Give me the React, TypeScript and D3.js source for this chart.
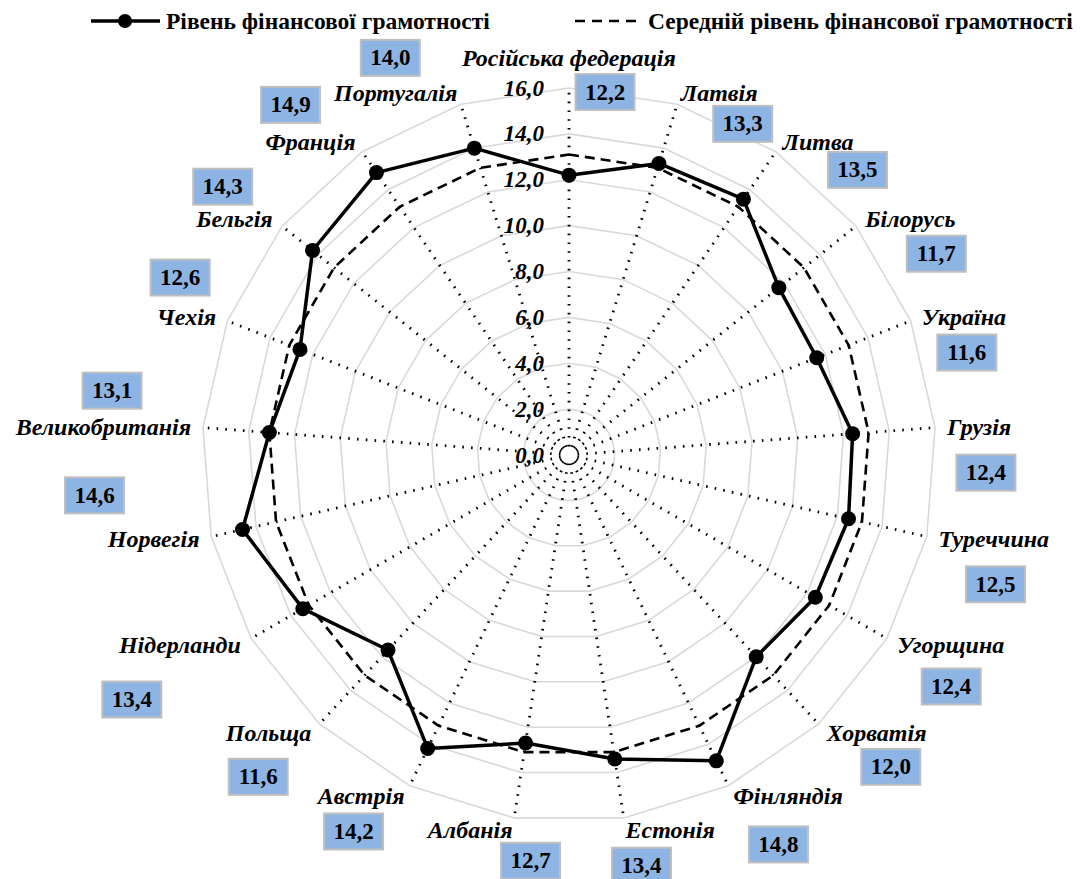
import React from 'react';
import * as d3 from 'd3';

const categories = [
  'Російська федерація', 'Латвія', 'Литва', 'Білорусь', 'Україна', 'Грузія', 'Туреччина',
  'Угорщина', 'Хорватія', 'Фінляндія', 'Естонія', 'Албанія', 'Австрія', 'Польща',
  'Нідерланди', 'Норвегія', 'Великобританія', 'Чехія', 'Бельгія', 'Франція', 'Португалія',
];
const literacyValues = [
  12.2, 13.3, 13.5, 11.7, 11.6, 12.4, 12.5, 12.4, 12.0, 14.8, 13.4,
  12.7, 14.2, 11.6, 13.4, 14.6, 13.1, 12.6, 14.3, 14.9, 14.0,
];
const averageLevel = 13.1;
const axisTicks = [0, 2, 4, 6, 8, 10, 12, 14, 16];
const seriesNames = ['Рівень фінансової грамотності', 'Середній рівень фінансової грамотності'];

// layout only: value-box nudges relative to each category label anchor
const valueBoxNudge: [number, number][] = [
  [36, 16], [62, 31], [75, 28], [71, 35], [45, 36], [39, 46], [57, 45], [54, 42], [64, 34],
  [45, 48], [16, 36], [18, 31], [-51, 35], [-53, 44], [-109, 55], [-105, -44], [-79, -36],
  [-36, -39], [-50, -32], [-65, -37], [-67, -35],
];

const W = 1082;
const H = 879;
const cx = 569;
const cy = 455;
const R = 367;
const FONT = '"Liberation Serif", "Times New Roman", serif';

const fmt = (v: number) => d3.format('.1f')(v).replace('.', ',');

export default function App() {
  const n = categories.length;
  const angle = d3.scaleLinear().domain([0, n]).range([0, 2 * Math.PI]);
  const r = d3.scaleLinear().domain([0, 16]).range([0, R]);

  const radial = d3
    .lineRadial<number>()
    .angle((_, i) => angle(i))
    .radius((d) => r(d))
    .curve(d3.curveLinearClosed);

  const pt = (i: number, rad: number) => {
    const a = angle(i);
    return [cx + rad * Math.sin(a), cy - rad * Math.cos(a)];
  };

  const averageSeries = categories.map(() => averageLevel);
  const gridLevels = axisTicks.filter((t) => t > 0);

  return (
    <div style={{ position: 'absolute', left: 0, top: 0 }}>
      <svg width={W} height={H} style={{ display: 'block', background: '#fff' }}>
        <rect x={0} y={0} width={W} height={H} fill="#fff" />
        <g transform={`translate(${cx},${cy})`}>
          {gridLevels.map((lv) => (
            <path
              key={lv}
              d={radial(categories.map(() => lv)) || ''}
              fill="none"
              stroke="#d9d9d9"
              strokeWidth={1.6}
            />
          ))}
        </g>
        {categories.map((c, i) => {
          const [x1, y1] = pt(i, 8.6);
          const [x2, y2] = pt(i, r(16));
          return (
            <line
              key={c}
              x1={x1}
              y1={y1}
              x2={x2}
              y2={y2}
              stroke="#000"
              strokeWidth={2.8}
              strokeDasharray="1.6 7.2"
            />
          );
        })}
        {axisTicks.map((t) => (
          <text
            key={t}
            x={544}
            y={cy - r(t)}
            textAnchor="end"
            dominantBaseline="central"
            fontFamily={FONT}
            fontWeight="bold"
            fontStyle="italic"
            fontSize={23}
            fill="#000"
          >
            {fmt(t)}
          </text>
        ))}
        <g transform={`translate(${cx},${cy})`}>
          <path
            d={radial(averageSeries) || ''}
            fill="none"
            stroke="#000"
            strokeWidth={2.6}
            strokeDasharray="10 6"
          />
          <path d={radial(literacyValues) || ''} fill="none" stroke="#000" strokeWidth={3.5} strokeLinejoin="round" />
        </g>
        {literacyValues.map((v, i) => {
          const [x, y] = pt(i, r(v));
          return <circle key={i} cx={x} cy={y} r={7.5} fill="#000" />;
        })}
        {categories.map((c, i) => {
          const a = angle(i);
          const s = Math.sin(a);
          const co = Math.cos(a);
          let [x, y] = pt(i, R + 12);
          let anchor: 'start' | 'end' | 'middle' = 'middle';
          if (s > 0.05) anchor = 'start';
          else if (s < -0.05) anchor = 'end';
          else y -= co * 18;
          const [nx, ny] = valueBoxNudge[i];
          const bx = pt(i, R + 12)[0] + nx;
          const by = pt(i, R + 12)[1] + ny;
          return (
            <g key={c}>
              <text
                x={x}
                y={y}
                textAnchor={anchor}
                dominantBaseline="central"
                fontFamily={FONT}
                fontWeight="bold"
                fontStyle="italic"
                fontSize={24}
                fill="#000"
              >
                {c}
              </text>
              <rect
                x={bx - 29.5}
                y={by - 18}
                width={59}
                height={36}
                fill="#8eb4e3"
                stroke="#bfbfbf"
                strokeWidth={2}
              />
              <text
                x={bx}
                y={by}
                textAnchor="middle"
                dominantBaseline="central"
                fontFamily={FONT}
                fontWeight="bold"
                fontSize={23}
                fill="#000"
              >
                {fmt(literacyValues[i])}
              </text>
            </g>
          );
        })}
        {/* legend */}
        <g>
          <line x1={91} y1={21} x2={160} y2={21} stroke="#000" strokeWidth={3.5} />
          <circle cx={125} cy={21} r={7} fill="#000" />
          <text x={166} y={21} dominantBaseline="central" fontFamily={FONT} fontWeight="bold" fontSize={23.5} fill="#000">
            {seriesNames[0]}
          </text>
          <line x1={575} y1={21} x2={640} y2={21} stroke="#000" strokeWidth={2.6} strokeDasharray="10 7" />
          <text x={648} y={21} dominantBaseline="central" fontFamily={FONT} fontWeight="bold" fontSize={23.5} fill="#000">
            {seriesNames[1]}
          </text>
        </g>
      </svg>
    </div>
  );
}
